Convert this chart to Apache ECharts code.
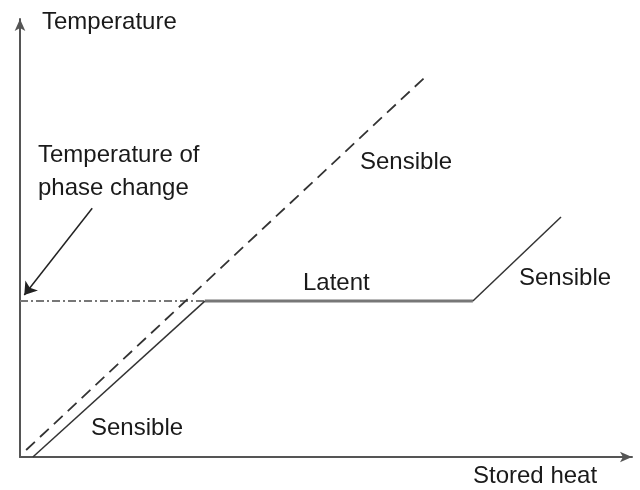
<!DOCTYPE html>
<html>
<head>
<meta charset="utf-8">
<script src="https://cdn.jsdelivr.net/npm/echarts@6/dist/echarts.min.js"></script>
<style>html,body{margin:0;padding:0;background:#fff}#c{width:640px;height:490px}</style>
</head>
<body>
<div id="c"></div>
<script>
// Data in chart units (stored heat 0-100, temperature 0-100)
var sensibleLatentPath = [[2.1, 0], [30.2, 35.6], [74.0, 35.6], [88.4, 54.8]];
var sensibleOnlyPath = [[1.0, 1.6], [66.7, 87.4]];
var phaseChangeLevel = [[0, 35.6], [30.2, 35.6]];
var pointerArrow = [[11.8, 56.8], [0.7, 37.0]];
var axisNames = { x: 'Stored heat', y: 'Temperature' };
var labels = [
  { text: 'Temperature of', x: 38, y: 155 },
  { text: 'phase change', x: 38, y: 188 },
  { text: 'Sensible', x: 360, y: 162 },
  { text: 'Latent', x: 303, y: 283 },
  { text: 'Sensible', x: 519, y: 278 },
  { text: 'Sensible', x: 91, y: 428 }
];

var chart = echarts.init(document.getElementById('c'));
var FONT = '24px "Liberation Sans", Arial, sans-serif';
var graphics = labels.map(function (l) {
  return { type: 'text', x: l.x, y: l.y, style: { text: l.text, font: FONT, fill: '#1a1a1a', verticalAlign: 'middle' } };
});
graphics.push({ type: 'text', x: 42, y: 22, style: { text: axisNames.y, font: FONT, fill: '#1a1a1a', verticalAlign: 'middle' } });
graphics.push({ type: 'text', x: 473, y: 476, style: { text: axisNames.x, font: FONT, fill: '#1a1a1a', verticalAlign: 'middle' } });

var axisCommon = {
  type: 'value', min: 0, max: 100,
  axisLine: { show: true, symbol: ['none', 'arrow'], symbolSize: [8, 12], lineStyle: { color: '#555', width: 2 } },
  axisTick: { show: false }, axisLabel: { show: false }, splitLine: { show: false }
};

chart.setOption({
  animation: false,
  grid: { left: 20, top: 19, width: 612, height: 438 },
  xAxis: axisCommon,
  yAxis: axisCommon,
  graphic: graphics,
  series: [
    { type: 'line', data: phaseChangeLevel, symbol: 'none', lineStyle: { color: '#777', width: 2, type: [8, 3, 2, 3] } },
    { type: 'line', data: sensibleLatentPath.slice(1, 3), symbol: 'none', lineStyle: { color: '#777', width: 3 } },
    { type: 'line', data: sensibleLatentPath.slice(0, 2), symbol: 'none', lineStyle: { color: '#333', width: 1.5 } },
    { type: 'line', data: sensibleLatentPath.slice(2, 4), symbol: 'none', lineStyle: { color: '#333', width: 1.5 } },
    { type: 'line', data: sensibleOnlyPath, symbol: 'none', lineStyle: { color: '#333', width: 1.8, type: [12, 7] } },
    { type: 'lines', coordinateSystem: 'cartesian2d', symbol: ['none', 'arrow'], symbolSize: 12,
      lineStyle: { color: '#222', width: 1.5, opacity: 1 },
      data: [{ coords: pointerArrow }] }
  ]
});
</script>
</body>
</html>
